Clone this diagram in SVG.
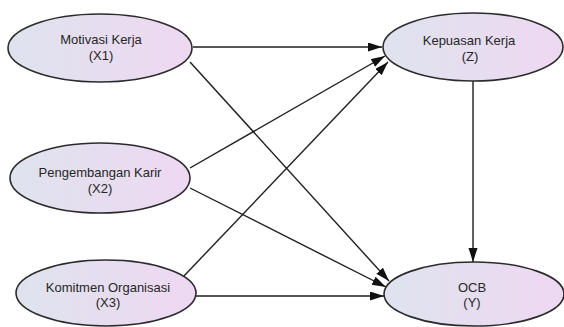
<svg xmlns="http://www.w3.org/2000/svg" width="564" height="327" viewBox="0 0 564 327">
  <style>
    .node ellipse { fill: url(#nodeFill); stroke: #2b2b2b; stroke-width: 1.6; }
    .node text { font-family: "Liberation Sans", Arial, sans-serif; font-size: 13px; fill: #262626; text-anchor: middle; }
    .edge { stroke: #1e1e1e; stroke-width: 1.4; fill: none; marker-end: url(#arrow); }
  </style>
  <defs>
    <linearGradient id="nodeFill" x1="0" y1="0" x2="1" y2="0">
      <stop offset="0" stop-color="#dfe3ee"/>
      <stop offset="1" stop-color="#eed8f2"/>
    </linearGradient>
    <marker id="arrow" markerUnits="userSpaceOnUse" markerWidth="15" markerHeight="10" refX="14" refY="4.5" orient="auto">
      <path d="M0,0 L14,4.5 L0,9 z" fill="#111"/>
    </marker>
  </defs>
  <rect width="564" height="327" fill="#fff"/>

  <g id="connectors">
    <line class="edge" x1="193" y1="47" x2="382" y2="47"/>
    <line class="edge" x1="190" y1="62" x2="389" y2="281"/>
    <line class="edge" x1="190" y1="168" x2="385" y2="56"/>
    <line class="edge" x1="190" y1="188" x2="386" y2="287"/>
    <line class="edge" x1="183" y1="277" x2="388" y2="62"/>
    <line class="edge" x1="195" y1="296" x2="384" y2="296"/>
    <line class="edge" x1="473" y1="81" x2="473" y2="262"/>
  </g>

  <g id="motivasi" class="node">
    <ellipse cx="100" cy="48" rx="92" ry="34"/>
    <text x="101" y="44">Motivasi Kerja</text>
    <text x="101" y="60">(X1)</text>
  </g>
  <g id="pengembangan" class="node">
    <ellipse cx="100" cy="178" rx="90" ry="35"/>
    <text x="100" y="177">Pengembangan Karir</text>
    <text x="100" y="193">(X2)</text>
  </g>
  <g id="komitmen" class="node">
    <ellipse cx="106" cy="293" rx="90" ry="33"/>
    <text x="108" y="292">Komitmen Organisasi</text>
    <text x="108" y="307">(X3)</text>
  </g>
  <g id="kepuasan" class="node">
    <ellipse cx="473" cy="47" rx="90" ry="34"/>
    <text x="469" y="45">Kepuasan Kerja</text>
    <text x="470" y="61">(Z)</text>
  </g>
  <g id="ocb" class="node">
    <ellipse cx="474" cy="294" rx="90" ry="32"/>
    <text x="472" y="292">OCB</text>
    <text x="472" y="307">(Y)</text>
  </g>
</svg>
